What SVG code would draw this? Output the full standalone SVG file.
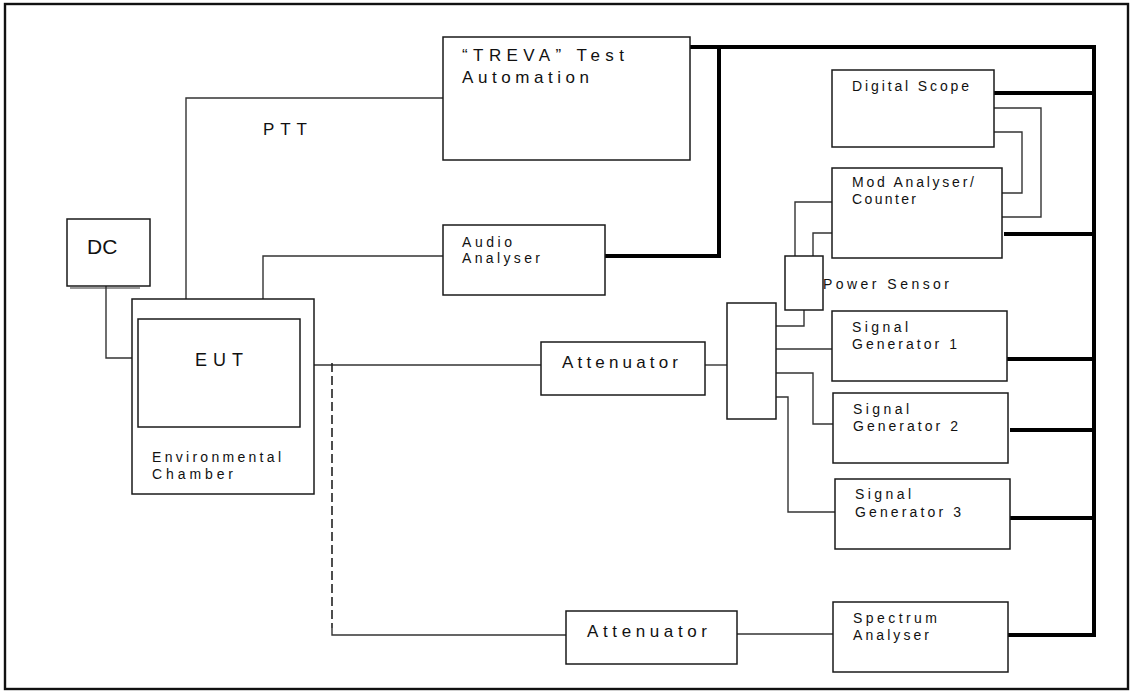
<svg xmlns="http://www.w3.org/2000/svg" width="1131" height="691" viewBox="0 0 1131 691">
<style>
.box{fill:#fff;stroke:#1a1a1a;stroke-width:1.5}
.ln{fill:none;stroke:#333;stroke-width:1.4}
.bus{fill:none;stroke:#000;stroke-width:4}
.dash{fill:none;stroke:#222;stroke-width:1.6;stroke-dasharray:9,4}
text{font-family:"Liberation Sans",Arial,sans-serif;fill:#111}
.s{font-size:14px}
.m{font-size:17px}
</style>
<rect x="0" y="0" width="1131" height="691" fill="#fff"/>
<rect x="5" y="4" width="1123" height="685" fill="none" stroke="#111" stroke-width="2.4"/>
<g id="connectors">
<path class="ln" d="M106 286 V358 H138"/>
<path class="ln" d="M186 319 V98 H443"/>
<path class="ln" d="M263 319 V256 H443"/>
<path class="ln" d="M300 365 H541"/>
<path class="ln" d="M705 365 H727"/>
<path class="ln" d="M776 326 H804 V310"/>
<path class="ln" d="M776 349 H832"/>
<path class="ln" d="M776 373 H813 V424 H833"/>
<path class="ln" d="M776 397 H788 V512 H835"/>
<path class="ln" d="M795 256 V202 H832"/>
<path class="ln" d="M813 256 V233 H832"/>
<path class="ln" d="M994 108 H1041 V217 H1002"/>
<path class="ln" d="M994 132 H1022 V193 H1002"/>
<path class="dash" d="M332 363 V628"/>
<path class="ln" d="M332 628 V635 H566"/>
<path class="ln" d="M737 634 H833"/>
<path class="bus" d="M690 47 H1094 V637"/>
<path class="bus" d="M605 256 H719 V45"/>
<path class="bus" d="M994 93 H1094"/>
<path class="bus" d="M1004 234 H1094"/>
<path class="bus" d="M1007 359 H1094"/>
<path class="bus" d="M1010 430 H1094"/>
<path class="bus" d="M1010 518 H1094"/>
<path class="bus" d="M1008 635 H1094"/>
</g>
<g id="dc">
<rect class="box" x="67" y="219" width="83" height="67"/>
<line x1="70" y1="288" x2="140" y2="288" stroke="#333" stroke-width="1"/>
<text x="87" y="254" font-size="21">DC</text>
</g>
<g id="chamber">
<rect class="box" x="132" y="299" width="182" height="195"/>
<text class="s" x="152" y="462" textLength="129" lengthAdjust="spacing">Environmental</text>
<text class="s" x="152" y="479" textLength="81" lengthAdjust="spacing">Chamber</text>
</g>
<g id="eut">
<rect class="box" x="138" y="319" width="162" height="108"/>
<text x="195" y="366" font-size="18" textLength="48" lengthAdjust="spacing">EUT</text>
</g>
<g id="ptt-label">
<text class="m" x="263" y="135" textLength="44" lengthAdjust="spacing">PTT</text>
</g>
<g id="treva">
<rect class="box" x="443" y="37" width="247" height="123"/>
<text class="m" x="462" y="61" textLength="162" lengthAdjust="spacing">“TREVA” Test</text>
<text class="m" x="462" y="83" textLength="127" lengthAdjust="spacing">Automation</text>
</g>
<g id="audio">
<rect class="box" x="443" y="225" width="162" height="70"/>
<text class="s" x="462" y="247" textLength="50" lengthAdjust="spacing">Audio</text>
<text class="s" x="462" y="263" textLength="78" lengthAdjust="spacing">Analyser</text>
</g>
<g id="att1">
<rect class="box" x="541" y="342" width="164" height="53"/>
<text class="m" x="562" y="368" textLength="116" lengthAdjust="spacing">Attenuator</text>
</g>
<g id="splitter">
<rect class="box" x="727" y="303" width="49" height="116"/>
</g>
<g id="power-sensor">
<rect class="box" x="785" y="256" width="38" height="54"/>
<text class="s" x="823" y="289" textLength="126" lengthAdjust="spacing">Power Sensor</text>
</g>
<g id="scope">
<rect class="box" x="832" y="70" width="162" height="77"/>
<text class="s" x="852" y="91" textLength="117" lengthAdjust="spacing">Digital Scope</text>
</g>
<g id="mod">
<rect class="box" x="832" y="168" width="170" height="90"/>
<text class="s" x="852" y="187" textLength="122" lengthAdjust="spacing">Mod Analyser/</text>
<text class="s" x="852" y="204" textLength="64" lengthAdjust="spacing">Counter</text>
</g>
<g id="sg1">
<rect class="box" x="832" y="311" width="175" height="70"/>
<text class="s" x="852" y="332" textLength="56" lengthAdjust="spacing">Signal</text>
<text class="s" x="852" y="349" textLength="105" lengthAdjust="spacing">Generator 1</text>
</g>
<g id="sg2">
<rect class="box" x="833" y="393" width="175" height="70"/>
<text class="s" x="853" y="414" textLength="56" lengthAdjust="spacing">Signal</text>
<text class="s" x="853" y="431" textLength="105" lengthAdjust="spacing">Generator 2</text>
</g>
<g id="sg3">
<rect class="box" x="835" y="479" width="175" height="70"/>
<text class="s" x="855" y="499" textLength="56" lengthAdjust="spacing">Signal</text>
<text class="s" x="855" y="517" textLength="106" lengthAdjust="spacing">Generator 3</text>
</g>
<g id="att2">
<rect class="box" x="566" y="611" width="171" height="53"/>
<text class="m" x="587" y="637" textLength="120" lengthAdjust="spacing">Attenuator</text>
</g>
<g id="spectrum">
<rect class="box" x="833" y="602" width="175" height="70"/>
<text class="s" x="853" y="623" textLength="84" lengthAdjust="spacing">Spectrum</text>
<text class="s" x="853" y="640" textLength="76" lengthAdjust="spacing">Analyser</text>
</g>
</svg>
